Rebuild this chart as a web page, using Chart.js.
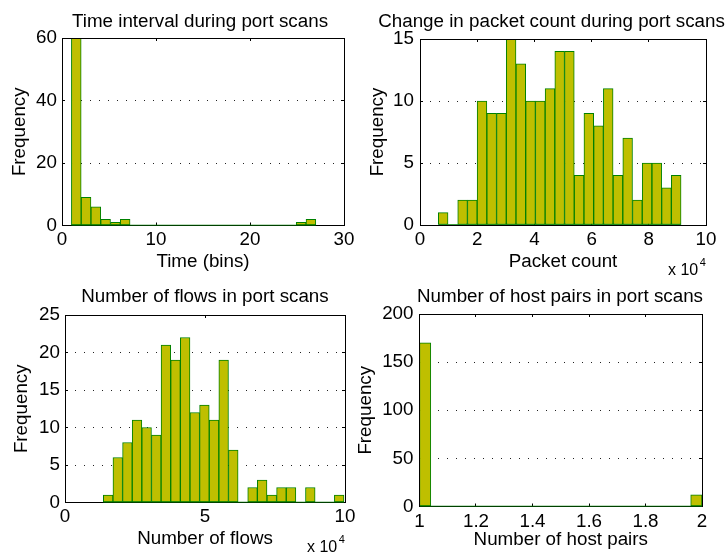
<!DOCTYPE html>
<html>
<head>
<meta charset="utf-8">
<script src="https://cdn.jsdelivr.net/npm/chart.js@4.4.1/dist/chart.umd.min.js"></script>
<style>
  html, body { margin: 0; padding: 0; background: #fff; }
  #fig { position: relative; width: 728px; height: 555px; overflow: hidden; background: #fff; }
  #fig canvas { position: absolute; }
</style>
</head>
<body>
<div id="fig">
  <canvas id="timeChart"></canvas>
  <canvas id="packetChart"></canvas>
  <canvas id="flowChart"></canvas>
  <canvas id="hostChart"></canvas>
</div>
<script>
// ---- histogram data: 25 equal-width bins between the given edges ----
const timeRange = [1, 27];
const timeCounts = [159, 9, 6, 2, 1, 2,
  0, 0, 0, 0, 0, 0, 0, 0, 0, 0,
  0, 0, 0, 0, 0, 0, 0,
  1, 2];

const packetRange = [6400, 91280];
const packetCounts = [1, 0, 2, 2, 10, 9, 9, 15, 13, 10, 10, 11, 14, 14, 4, 9, 8, 11, 4, 7, 2, 5, 5, 3, 4];

const flowRange = [13690, 99640];
const flowCounts = [1, 6, 8, 11, 10, 9, 21, 19, 22, 12, 13, 11, 19, 7, 0, 2, 3, 1, 2, 2, 0, 2, 0, 0, 1];

const hostRange = [1, 2];
const hostCounts = [170,
  0, 0, 0, 0, 0, 0, 0, 0, 0, 0,
  0, 0, 0, 0, 0, 0, 0, 0, 0, 0,
  0, 0, 0,
  12];

// ---- tick values ----
const timeXTicks = [0, 10, 20, 30];
const timeYTicks = [0, 20, 40, 60];
const packetXTicks = [0, 20000, 40000, 60000, 80000, 100000];
const packetYTicks = [0, 5, 10, 15];
const flowXTicks = [0, 50000, 100000];
const flowYTicks = [0, 5, 10, 15, 20, 25];
const hostXTicks = [1, 1.2, 1.4, 1.6, 1.8, 2];
const hostYTicks = [0, 50, 100, 150, 200];

// ---- styling ----
const FONT = "'Liberation Sans', Arial, Helvetica, sans-serif";
const FS = 18.8;            // font size for all axis text
const LH = FS;              // line height (lineHeight: 1)
const MID = 0.3695 * FS;    // cap top -> 'middle' baseline distance
const TL = 3;               // inward tick length
const FILL = '#bfbf00';
const EDGE = '#008000';

function binCenters(range, n) {
  const w = (range[1] - range[0]) / n;
  return Array.from({ length: n }, (_, i) => range[0] + (i + 0.5) * w);
}

const exponentLabel = {
  id: 'exponentLabel',
  afterDraw(chart, args, opts) {
    if (!opts || !opts.show) return;
    const { ctx, chartArea } = chart;
    ctx.save();
    ctx.fillStyle = '#000';
    ctx.textBaseline = 'alphabetic';
    ctx.textAlign = 'left';
    ctx.font = `16px ${FONT}`;
    const x = chartArea.right - 38;
    const y = chartArea.bottom + 49.5;
    ctx.fillText('x 10', x, y);
    const w = ctx.measureText('x 10').width;
    ctx.font = `11px ${FONT}`;
    ctx.fillText('4', x + w + 1.5, y - 9);
    ctx.restore();
  }
};

function histogram(id, s) {
  const cv = document.getElementById(id);
  const b = s.box, a = s.area;
  cv.width = b.w; cv.height = b.h;
  cv.style.left = b.x + 'px'; cv.style.top = b.y + 'px';
  cv.style.width = b.w + 'px'; cv.style.height = b.h + 'px';

  const titlePadTop = s.titleCapTop + MID - b.y - LH / 2;
  const titleH = titlePadTop + LH;
  const yW = a.l - b.x;
  const y2W = b.x + b.w - a.r;
  const x2H = a.t - b.y - titleH;
  const xH = b.y + b.h - a.b;
  const xTitlePad = b.y + b.h - (s.xTitleCapTop + MID) - LH / 2;
  const yTitlePad = s.yTitleCapLeft + MID - b.x - LH / 2;
  const xTickPad = s.xTickGap + MID - LH / 2 + TL;
  const yTickPad = s.yTickGap + TL;

  const font = { family: FONT, size: FS, weight: 'normal', lineHeight: 1 };
  const setTicks = vals => scale => { scale.ticks = vals.map(v => ({ value: v })); };
  const centers = binCenters(s.range, s.counts.length);

  const xCommon = {
    type: 'linear', axis: 'x', min: s.xMin, max: s.xMax, offset: false,
    afterBuildTicks: setTicks(s.xTicks),
    grid: { offset: false, drawOnChartArea: false, drawTicks: true, tickLength: -TL, tickColor: '#000', tickWidth: 1 }
  };
  const yCommon = {
    type: 'linear', axis: 'y', min: 0, max: s.yMax,
    afterBuildTicks: setTicks(s.yTicks)
  };

  return new Chart(cv, {
    type: 'bar',
    data: {
      datasets: [
        {
          type: 'line',
          data: [{ x: s.range[0], y: 0 }, { x: s.range[1], y: 0 }],
          borderColor: EDGE, borderWidth: 1.5, pointRadius: 0, fill: false,
          xAxisID: 'x', yAxisID: 'y'
        },
        {
          type: 'bar',
          data: centers.map((c, i) => ({ x: c, y: s.counts[i] })),
          backgroundColor: FILL, borderColor: EDGE, borderWidth: 1,
          borderSkipped: false, barPercentage: 1, categoryPercentage: 1,
          clip: { top: 0, left: false, right: false, bottom: false },
          xAxisID: 'x', yAxisID: 'y'
        }
      ]
    },
    options: {
      responsive: false, animation: false, devicePixelRatio: 1,
      layout: { padding: 0 },
      events: [],
      plugins: {
        legend: { display: false },
        tooltip: { enabled: false },
        title: {
          display: true, text: s.title, color: '#000',
          font: font, padding: { top: titlePadTop, bottom: 0 }
        },
        exponentLabel: { show: !!s.exponent }
      },
      scales: {
        x: Object.assign({}, xCommon, {
          position: 'bottom',
          afterFit: sc => { sc.height = xH; },
          border: { display: true, color: '#000', width: 1, z: 0 },
          ticks: { color: '#000', font: font, padding: xTickPad, maxRotation: 0, autoSkip: false, callback: v => s.fmtX(v) },
          title: { display: true, text: s.xTitle, color: '#000', font: font, padding: { top: 0, bottom: xTitlePad } }
        }),
        x2: Object.assign({}, xCommon, {
          position: 'top',
          afterFit: sc => { sc.height = x2H; },
          border: { display: true, color: '#000', width: 1, z: 1 },
          ticks: { display: false }
        }),
        y: Object.assign({}, yCommon, {
          position: 'left',
          afterFit: sc => { sc.width = yW; },
          grid: { drawOnChartArea: true, drawTicks: true, tickLength: -TL, color: '#222', lineWidth: 1, tickColor: '#000', tickWidth: 1, tickBorderDash: [] },
          border: { display: true, color: '#000', width: 1, z: 1, dash: [1, 8] },
          ticks: { color: '#000', font: font, padding: yTickPad, callback: v => String(v) },
          title: { display: true, text: 'Frequency', color: '#000', font: font, padding: { top: yTitlePad, bottom: 0 } }
        }),
        y2: Object.assign({}, yCommon, {
          position: 'right',
          afterFit: sc => { sc.width = y2W; },
          grid: { drawOnChartArea: false, drawTicks: true, tickLength: -TL, tickColor: '#000', tickWidth: 1 },
          border: { display: true, color: '#000', width: 1, z: 1 },
          ticks: { display: false }
        })
      }
    },
    plugins: [exponentLabel]
  });
}

const plain = v => String(v);
const per1e4 = v => String(Math.round(v / 1000) / 10);
const oneDecimal = v => String(Math.round(v * 10) / 10);

histogram('timeChart', {
  title: 'Time interval during port scans', xTitle: 'Time (bins)',
  range: timeRange, counts: timeCounts,
  xMin: 0, xMax: 30, yMax: 60, xTicks: timeXTicks, yTicks: timeYTicks, fmtX: plain,
  box: { x: 0, y: 0, w: 400, h: 277 },
  area: { l: 62, t: 38, r: 344, b: 225.5 },
  titleCapTop: 15, xTitleCapTop: 255, yTitleCapLeft: 13.3, xTickGap: 7.8, yTickGap: 5
});

histogram('packetChart', {
  title: 'Change in packet count during port scans', xTitle: 'Packet count',
  range: packetRange, counts: packetCounts,
  xMin: 0, xMax: 100000, yMax: 15, xTicks: packetXTicks, yTicks: packetYTicks, fmtX: per1e4,
  exponent: true,
  box: { x: 365, y: 0, w: 373, h: 277 },
  area: { l: 420, t: 39, r: 706, b: 225 },
  titleCapTop: 15, xTitleCapTop: 255, yTitleCapLeft: 370.7, xTickGap: 8.3, yTickGap: 6
});

histogram('flowChart', {
  title: 'Number of flows in port scans', xTitle: 'Number of flows',
  range: flowRange, counts: flowCounts,
  xMin: 0, xMax: 100000, yMax: 25, xTicks: flowXTicks, yTicks: flowYTicks, fmtX: per1e4,
  exponent: true,
  box: { x: 0, y: 277, w: 410, h: 278 },
  area: { l: 65, t: 315, r: 345, b: 502.5 },
  titleCapTop: 290.3, xTitleCapTop: 532, yTitleCapLeft: 15, xTickGap: 7.6, yTickGap: 5
});

histogram('hostChart', {
  title: 'Number of host pairs in port scans', xTitle: 'Number of host pairs',
  range: hostRange, counts: hostCounts,
  xMin: 1, xMax: 2, yMax: 200, xTicks: hostXTicks, yTicks: hostYTicks, fmtX: oneDecimal,
  box: { x: 352, y: 277, w: 416, h: 278 },
  area: { l: 419.5, t: 314, r: 702, b: 506.5 },
  titleCapTop: 290.3, xTitleCapTop: 533, yTitleCapLeft: 358.5, xTickGap: 8.8, yTickGap: 6
});
</script>
</body>
</html>
